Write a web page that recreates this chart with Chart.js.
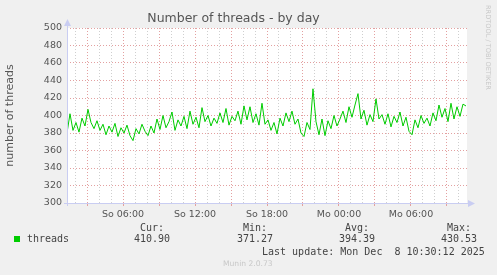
<!DOCTYPE html>
<html>
<head>
<meta charset="utf-8">
<script src="https://cdn.jsdelivr.net/npm/chart.js@4/dist/chart.umd.min.js"></script>
<style>
  html, body { margin: 0; padding: 0; background: #f0f0f0; }
  #wrap { position: relative; width: 497px; height: 275px; overflow: hidden; }
  canvas { position: absolute; left: 0; top: 0; }
  .t { position: absolute; font-family: "DejaVu Sans Mono", monospace; font-size: 10px; line-height: 12px; color: #444; white-space: pre; }
  .sq { position: absolute; left: 14px; top: 236px; width: 6px; height: 6px; background: #00cc00; }
  .munin { position: absolute; left: 223px; top: 259px; font-family: "DejaVu Sans", sans-serif; font-size: 7.6px; color: #c8c8c8; white-space: pre; }
  .rrd { position: absolute; left: 484px; top: 5px; font-family: "DejaVu Sans", sans-serif; font-size: 6.6px; color: #c8c8c8; writing-mode: vertical-rl; white-space: pre; }
</style>
</head>
<body>
<div id="wrap">
  <canvas id="c" width="497" height="275"></canvas>
  <div class="sq"></div>
  <div class="t" style="left:27px;top:233px;">threads</div>
  <div class="t" style="left:140px;top:222px;">Cur:</div>
  <div class="t" style="left:134px;top:233px;" id="vCur"></div>
  <div class="t" style="left:243px;top:222px;">Min:</div>
  <div class="t" style="left:237px;top:233px;" id="vMin"></div>
  <div class="t" style="left:345px;top:222px;">Avg:</div>
  <div class="t" style="left:339px;top:233px;" id="vAvg"></div>
  <div class="t" style="left:447px;top:222px;">Max:</div>
  <div class="t" style="left:441px;top:233px;" id="vMax"></div>
  <div class="t" style="left:262px;top:246px;">Last update: Mon Dec  8 10:30:12 2025</div>
  <div class="munin">Munin 2.0.73</div>
  <div class="rrd">RRDTOOL / TOBI OETIKER</div>
</div>
<script>
// ---- data ----
const seriesName = "threads";
const startHour = 1.3333;      // hours since Sunday 00:00 of first sample
const stepHours = 0.25;        // sample spacing
const threads = [
  380, 402, 383, 392, 381, 397, 388, 407, 392, 385,
  394, 383, 390, 378, 388, 381, 391, 376, 386, 380,
  389, 377, 371.27, 385, 379, 390, 382, 377, 388, 380,
  396, 384, 400, 386, 393, 404, 383, 395, 388, 399,
  385, 405, 390, 398, 386, 409, 393, 400, 388, 397,
  391, 403, 392, 408, 389, 399, 394, 405, 390, 411,
  395, 410, 392, 402, 389, 414, 390, 395, 383, 392,
  379, 397, 388, 403, 393, 405, 390, 396, 380, 376,
  392, 384, 430.53, 393, 378, 396, 377, 394, 385, 400,
  388, 396, 405, 392, 410, 398, 412, 425, 396, 406,
  389, 401, 393, 419, 396, 401, 390, 402, 387, 399,
  392, 404, 388, 398, 382, 378, 395, 386, 400, 391,
  397, 388, 403, 394, 412, 398, 408, 393, 414, 396,
  410, 399, 413, 410.90
];
const stats = { cur: "410.90", min: "371.27", avg: "394.39", max: "430.53" };
const xTickHours  = [6, 12, 18, 24, 30];
const xTickLabels = ["So 06:00", "So 12:00", "So 18:00", "Mo 00:00", "Mo 06:00"];
const yMin = 300, yMax = 500;
const xMin = 1.3333, xMax = 34.6667;

document.getElementById('vCur').textContent = stats.cur;
document.getElementById('vMin').textContent = stats.min;
document.getElementById('vAvg').textContent = stats.avg;
document.getElementById('vMax').textContent = stats.max;

const points = threads.map((v, i) => ({ x: startHour + i * stepHours, y: v }));

const RED = '#e3a0a0';
const GRAY = '#cfcfcf';
const AXIS = '#c9cdf2';
const TXT = '#555555';

const plotBg = {
  id: 'plotBg',
  beforeDraw(chart) {
    const { ctx, chartArea: a } = chart;
    ctx.save();
    ctx.fillStyle = '#ffffff';
    ctx.fillRect(a.left, a.top, a.right - a.left, a.bottom - a.top);
    ctx.restore();
  },
  afterDraw(chart) {
    const { ctx, chartArea: a } = chart;
    ctx.save();
    ctx.strokeStyle = AXIS;
    ctx.fillStyle = AXIS;
    ctx.lineWidth = 1;
    ctx.beginPath();
    ctx.moveTo(a.left + 0.5, a.bottom + 3);
    ctx.lineTo(a.left + 0.5, a.top - 4);
    ctx.moveTo(a.left - 3, a.bottom + 0.5);
    ctx.lineTo(a.right + 4, a.bottom + 0.5);
    ctx.stroke();
    ctx.beginPath();
    ctx.moveTo(a.left + 0.5, a.top - 9);
    ctx.lineTo(a.left - 3, a.top - 2);
    ctx.lineTo(a.left + 4, a.top - 2);
    ctx.closePath();
    ctx.fill();
    ctx.beginPath();
    ctx.moveTo(a.right + 8, a.bottom + 0.5);
    ctx.lineTo(a.right + 1, a.bottom - 3);
    ctx.lineTo(a.right + 1, a.bottom + 4);
    ctx.closePath();
    ctx.fill();
    ctx.restore();
  }
};

new Chart(document.getElementById('c'), {
  type: 'line',
  data: {
    datasets: [{
      label: seriesName,
      data: points,
      borderColor: '#00cc00',
      borderWidth: 1,
      pointRadius: 0,
      tension: 0,
      fill: false
    }]
  },
  options: {
    responsive: false,
    animation: false,
    devicePixelRatio: 1,
    layout: { padding: { left: 0, right: 30, top: 0, bottom: 50 } },
    plugins: {
      legend: { display: false },
      tooltip: { enabled: false },
      title: {
        display: true,
        text: 'Number of threads - by day',
        color: TXT,
        font: { family: 'DejaVu Sans', size: 12.5, weight: 'normal' },
        padding: { top: 11, bottom: 2 }
      }
    },
    scales: {
      x: {
        type: 'linear',
        min: xMin,
        max: xMax,
        afterBuildTicks(scale) {
          const t = [];
          for (let h = 2; h <= 34; h++) t.push({ value: h });
          scale.ticks = t;
        },
        afterFit(scale) { scale.height = 22; },
        border: { display: false, dash: [1, 2] },
        grid: {
          color: c => (c.tick && c.tick.value % 3 === 0) ? RED : GRAY,
          tickColor: c => (c.tick && c.tick.value % 3 === 0) ? RED : 'rgba(0,0,0,0)',
          lineWidth: 1,
          drawTicks: true,
          tickLength: 3,
          tickBorderDash: []
        },
        ticks: {
          autoSkip: false,
          maxRotation: 0,
          minRotation: 0,
          padding: 3,
          color: TXT,
          font: { family: 'DejaVu Sans', size: 9.5 },
          callback: v => {
            const i = xTickHours.indexOf(Math.round(v));
            return i >= 0 ? xTickLabels[i] : '';
          }
        }
      },
      y: {
        min: yMin,
        max: yMax,
        afterFit(scale) { scale.width = 67; },
        border: { display: false, dash: [1, 2] },
        grid: {
          color: c => (c.tick && c.tick.value % 20 === 0) ? RED : GRAY,
          lineWidth: 1,
          drawTicks: false
        },
        ticks: {
          stepSize: 10,
          padding: 5,
          color: TXT,
          font: { family: 'DejaVu Sans', size: 9.5 },
          callback: v => (v % 20 === 0 ? String(v) : '')
        },
        title: {
          display: true,
          text: 'number of threads',
          color: TXT,
          font: { family: 'DejaVu Sans', size: 11 },
          padding: { top: 4, bottom: 0 }
        }
      }
    }
  },
  plugins: [plotBg]
});
</script>
</body>
</html>
